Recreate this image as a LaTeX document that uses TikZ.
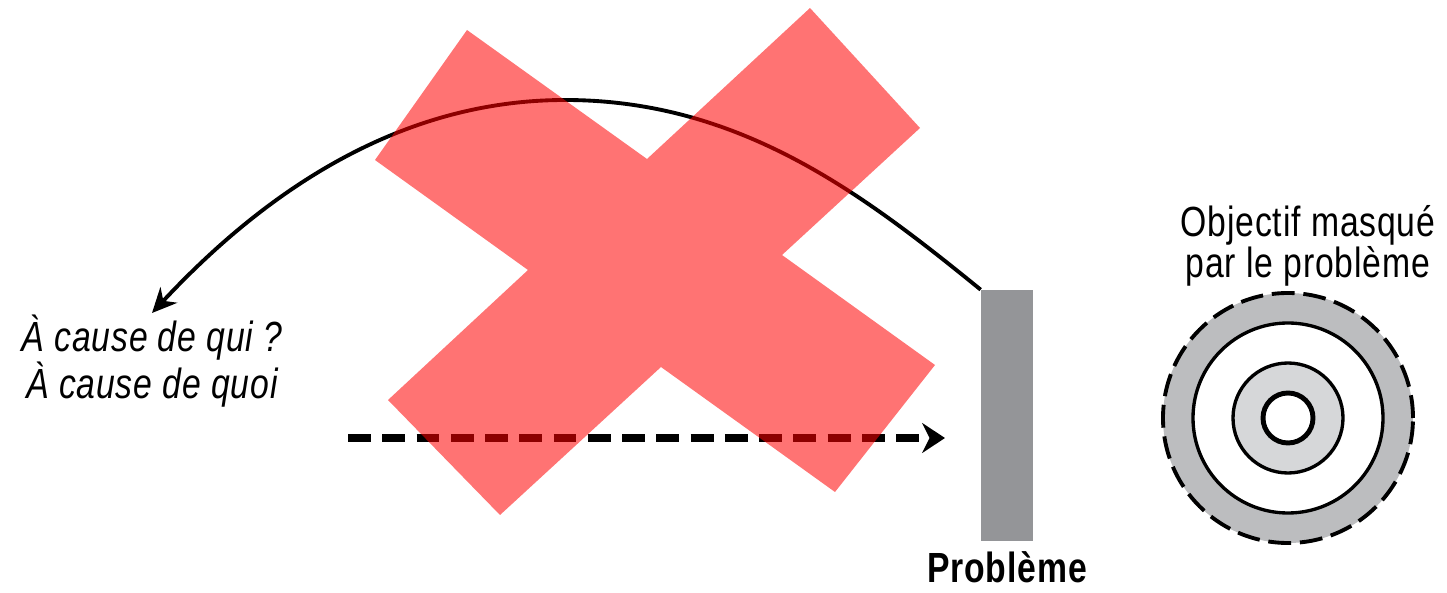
\documentclass[tikz,border=0pt]{standalone}
\usepackage{fontspec}
\setmainfont{Liberation Sans}
\newfontfamily\condfont{Liberation Sans}[FakeStretch=0.8, LetterSpace=2]
\usepackage{tikz}
\usetikzlibrary{positioning,arrows.meta}
\definecolor{bargray}{RGB}{148,149,152}
\definecolor{ringgray}{RGB}{188,189,191}
\definecolor{ringlight}{RGB}{214,215,217}

\begin{document}
\begin{tikzpicture}[>=Stealth,
    bar/.style={rectangle, fill=bargray, minimum width=1.04cm, minimum height=5.02cm, inner sep=0pt},
    caption/.style={font=\condfont\fontsize{24}{23}\selectfont, align=center, inner sep=1pt},
    ring/.style={circle, draw, line width=1.9pt, inner sep=0pt}]
    \useasboundingbox (0,0) rectangle (28.94,11.86);

    % the problem
    \node[bar] (bar) at (20.14,3.55) {};
    \node[caption, font=\condfont\bfseries\fontsize{24}{23}\selectfont, below=0.16cm of bar] (prob) {Problème};

    % the question
    \node[caption, font=\condfont\itshape\fontsize{24}{23}\selectfont, anchor=north] (cause) at (3.04,5.6) {À cause de qui ?\\À cause de quoi};

    % the target
    \node[ring, fill=ringgray, line width=2.2pt, dash pattern=on 13pt off 5pt, minimum size=5cm] (outer) at (25.76,3.5) {};
    \node[ring, fill=white, minimum size=3.8cm] (mid) at (outer) {};
    \node[ring, fill=ringlight, minimum size=2.2cm] (inner) at (outer) {};
    \node[ring, fill=white, line width=2.8pt, minimum size=1cm] (bull) at (outer) {};
    \node[caption] (goal) at (26.16,6.94) {Objectif masqué\\par le problème};

    % arrows
    \draw[line width=2.2pt, -{Stealth[length=14pt, width=13pt]}] (bar.north west)
        .. controls (17.26,7.98) and (14.8,9.86) .. (11.3,9.86)
        .. controls (7.8,9.86) and (5.1,7.81) .. (cause.north);
    \coordinate (from) at (6.96,3.1);
    \coordinate (to) at (18.9,3.1);
    \draw[line width=4.2pt, dash pattern=on 13pt off 6.5pt, -{Stealth[length=13pt, width=17pt]}] (from) -- (to);

    % the cross
    \fill[red, fill opacity=0.55] (9.34,11.26) -- (12.94,8.68) -- (16.2,11.7) -- (18.4,9.3)
        -- (15.64,6.76) -- (18.7,4.56) -- (16.7,2.02) -- (13.22,4.52) -- (10.0,1.56)
        -- (7.76,3.86) -- (10.56,6.46) -- (7.5,8.66) -- cycle;
\end{tikzpicture}
\end{document}
